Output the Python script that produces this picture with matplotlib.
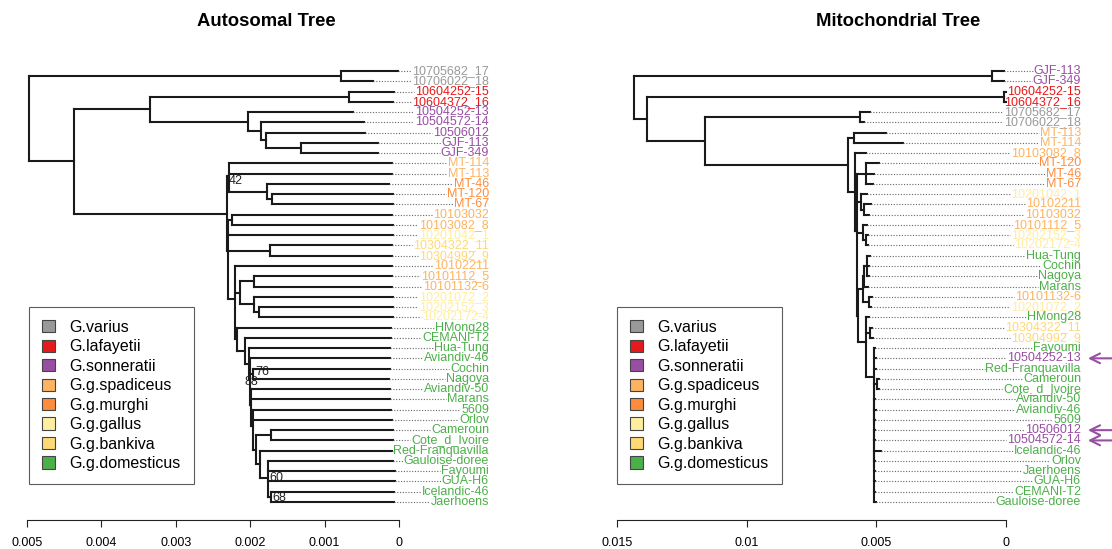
import numpy as np
import matplotlib
matplotlib.use('Agg')
import matplotlib.pyplot as plt
from matplotlib.collections import LineCollection
from matplotlib.patches import Patch
from matplotlib.transforms import offset_copy

plt.rcParams['font.family'] = ['Liberation Sans', 'DejaVu Sans']

# ---- groups / colours ----
group_names = ['G.varius', 'G.lafayetii', 'G.sonneratii', 'G.g.spadiceus',
               'G.g.murghi', 'G.g.gallus', 'G.g.bankiva', 'G.g.domesticus']
group_colors = ['#999999', '#E41A1C', '#984EA3', '#FDB462',
                '#FD8D3C', '#FFEDA0', '#FED976', '#4DAF4A']

varius_ids = ['10705682_17', '10706022_18']
lafayetii_ids = ['10604252-15', '10604372_16']
sonneratii_ids = ['10504252-13', '10504572-14', '10506012', 'GJF-113', 'GJF-349']
spadiceus_ids = ['MT-113', 'MT-114', '10103032', '10103082_8', '10102211',
                 '10101112_5', '10101132-6']
murghi_ids = ['MT-46', 'MT-120', 'MT-67']
gallus_ids = ['10201042_1', '10201072_2', '10202152_3', '10202172-4']
bankiva_ids = ['10304322_11', '10304992_9']
# everything else is G.g.domesticus

# samples marked with an arrow in the mitochondrial tree
mito_marked = ['10504252-13', '10506012', '10504572-14']

# trees: newick, number after ':' = node position on the axis (x 1e-3)
autosomal_newick = """
((10705682_17:0.013,10706022_18:0.349):0.780,
 (((10604252-15:0.067,10604372_16:0.081):0.672,
   (10504252-13:0.618,(10504572-14:0.470,(10506012:0.457,(GJF-113:0.282,GJF-349:0.282):1.317):1.788):1.855):2.030):3.347,
  ((MT-114:0.094,MT-113:0.094,(MT-46:0.134,(MT-120:0.081,MT-67:0.081):1.707):1.774)42:2.285,
   ((10103032:0.094,10103082_8:0.081):2.245,
    10201042_1:0.081,
    (10304322_11:0.094,10304992_9:0.094):1.734,
    (10102211:0.094,
     ((10101112_5:0.094,10101132-6:0.094):1.949,(10201072_2:0.081,(10202152_3:0.081,10202172-4:0.081):1.882):1.949):2.137,
     (HMong28:0.108,(CEMANI-T2:0.108,(Hua-Tung:0.121,(Aviandiv-46:0.121,(Cochin:0.121,Nagoya:0.134)76:1.962,
       (Aviandiv-50:0.121,Marans:0.121,(5609:0.108,Orlov:0.094,((Cameroun:0.081,Cote_d_Ivoire:0.081):1.720,
        (Red-Franquavilla:0.094,(Gauloise-doree:0.081,Fayoumi:0.054,GUA-H6:0.054,(Icelandic-46:0.067,Jaerhoens:0.067)68:1.720)60:1.761):1.868):1.922):1.962):1.989)88:2.003):2.016):2.070):2.177
    ):2.204):2.298):2.312):4.368):4.973;
"""

mito_newick = """
((GJF-113:0.077,GJF-349:0.077):0.540,
 ((10604252-15:0.0,10604372_16:0.0):0.077,
  ((10705682_17:5.244,10706022_18:5.476):5.630,
   ((MT-113:4.627,MT-114:3.972):5.861,
    (10103082_8:5.398,
     ((MT-120:4.897,MT-46:5.090,MT-67:5.129):5.398,
      (10201042_1:5.360,(10102211:5.206,10103032:5.283):5.476):5.591,
      (10101112_5:5.360,(10202152_3:5.321,10202172-4:5.321):5.398):5.514,
      ((((Hua-Tung:5.244,Cochin:5.283,Nagoya:5.283):5.360,Marans:5.321):5.476,(10101132-6:5.167,10201072_2:5.206):5.283):5.514,
       (HMong28:5.283,(10304322_11:5.167,10304992_9:5.129):5.244,
        (Fayoumi:5.051,10504252-13:5.013,Red-Franquavilla:5.013,(Cameroun:4.897,Cote_d_Ivoire:4.897):4.974,
         (Aviandiv-50:5.051,Aviandiv-46:5.013,5609:5.051,
          (10506012:5.051,10504572-14:5.051,Icelandic-46:4.820,Orlov:5.051,Jaerhoens:5.051,
           GUA-H6:5.051,CEMANI-T2:5.051,Gauloise-doree:5.013):5.075):5.082):5.090):5.398):5.707
     ):5.746):5.823):6.093):11.607):13.843):14.345;
"""

left_ticks = [0.005, 0.004, 0.003, 0.002, 0.001, 0]
left_ticklabels = ['0.005', '0.004', '0.003', '0.002', '0.001', '0']
right_ticks = [0.015, 0.01, 0.005, 0]
right_ticklabels = ['0.015', '0.01', '0.005', '0']

# small nudges (pixels) for the support values
boot_nudge = {'42': (0, 5), '88': (-5, 3), '76': (2, -2), '60': (1, 0), '68': (1, 1)}


def color_of(name):
    for ids, c in [(varius_ids, 0), (lafayetii_ids, 1), (sonneratii_ids, 2),
                   (spadiceus_ids, 3), (murghi_ids, 4), (gallus_ids, 5), (bankiva_ids, 6)]:
        if name in ids:
            return group_colors[c]
    return group_colors[7]


def parse(s):
    s = ''.join(s.split()).rstrip(';')
    pos = 0

    def node():
        nonlocal pos
        kids = []
        if s[pos] == '(':
            pos += 1
            while True:
                kids.append(node())
                if s[pos] == ',':
                    pos += 1
                    continue
                pos += 1
                break
        j = pos
        while pos < len(s) and s[pos] not in ',():':
            pos += 1
        name = s[j:pos]
        x = 0.0
        if pos < len(s) and s[pos] == ':':
            pos += 1
            j = pos
            while pos < len(s) and s[pos] not in ',()':
                pos += 1
            x = float(s[j:pos]) * 1e-3
        return {'name': name, 'x': x, 'kids': kids}
    return node()


def layout(n, tips):
    if not n['kids']:
        n['y'] = len(tips)
        tips.append(n)
    else:
        for k in n['kids']:
            layout(k, tips)
        n['y'] = np.mean([k['y'] for k in n['kids']])


W, H = 1112, 549
fig = plt.figure(figsize=(W / 100, H / 100), dpi=100)

axis_y = 520      # pixel row of the scale axis
first_tip, last_tip = 71, 502


def make_axes(px0, px1, zero_px, ppu):
    ax = fig.add_axes([px0 / W, (H - axis_y) / H, (px1 - px0) / W, axis_y / H])
    ax.set_xlim((zero_px - px0) / ppu, (zero_px - px1) / ppu)
    step = (last_tip - first_tip) / 42
    ax.set_ylim((axis_y - first_tip) / step, -first_tip / step)
    for s in ['top', 'right', 'left']:
        ax.spines[s].set_visible(False)
    ax.set_yticks([])
    ax.patch.set_visible(False)
    return ax


def draw_tree(ax, newick, label_x, title, title_px, ticks, ticklabels):
    tree = parse(newick)
    tips = []
    layout(tree, tips)
    segs = []
    boots = []

    def walk(n):
        if n['kids']:
            ys = [k['y'] for k in n['kids']]
            segs.append([(n['x'], min(ys)), (n['x'], max(ys))])
            for k in n['kids']:
                segs.append([(n['x'], k['y']), (k['x'], k['y'])])
                walk(k)
            if n['name']:
                boots.append(n)
    walk(tree)
    ax.add_collection(LineCollection(segs, colors='#1a1a1a', linewidths=1.5,
                                     capstyle='projecting'))
    for n in boots:
        dx, dy = boot_nudge.get(n['name'], (0, 0))
        tr = offset_copy(ax.transData, fig=fig, x=dx, y=-dy, units='dots')
        ax.text(n['x'], n['y'], n['name'], ha='left', va='center', fontsize=9,
                color='#222222', transform=tr)
    texts = []
    for t in tips:
        txt = ax.text(label_x, t['y'], t['name'], ha='right', va='center',
                      fontsize=9, color=color_of(t['name']))
        texts.append((t, txt))
    ax.spines['bottom'].set_bounds(min(ticks), max(ticks))
    ax.spines['bottom'].set_color('#222222')
    ax.spines['bottom'].set_linewidth(0.8)
    ax.set_xticks(ticks)
    ax.set_xticklabels(ticklabels)
    ax.tick_params(axis='x', direction='out', length=5, width=0.8, pad=7,
                   labelsize=9, color='#222222')
    fig.text(title_px / W, 1 - 22 / H, title, ha='center', va='center',
             fontsize=13.3, fontweight='bold')
    return tips, texts


ax1 = make_axes(0, 556, 399, 74400)
ax2 = make_axes(556, 1112, 1006, (1006 - 617) / 0.015)

tips1, texts1 = draw_tree(ax1, autosomal_newick, (399 - 489) / 74400,
                          'Autosomal Tree', 266, left_ticks, left_ticklabels)
tips2, texts2 = draw_tree(ax2, mito_newick, (1006 - 1081) / ((1006 - 617) / 0.015),
                          'Mitochondrial Tree', 898, right_ticks, right_ticklabels)

# dotted leaders from tip to label
fig.canvas.draw()
renderer = fig.canvas.get_renderer()
for ax, texts in [(ax1, texts1), (ax2, texts2)]:
    inv = ax.transData.inverted()
    for t, txt in texts:
        bb = txt.get_window_extent(renderer)
        xl = inv.transform((bb.x0 - 1, bb.y0))[0]
        if xl < t['x']:
            ax.plot([t['x'], xl], [t['y'], t['y']], color='#666666', lw=0.8,
                    linestyle=(0, (1, 1.5)))

# arrows
for t, txt in texts2:
    if t['name'] in mito_marked:
        ax2.annotate('', xy=(txt.get_position()[0], t['y']), xycoords='data',
                     xytext=(45, 0), textcoords='offset points',
                     arrowprops=dict(arrowstyle='->,head_length=0.7,head_width=0.35',
                                     color=group_colors[2], lw=1.5, shrinkA=0, shrinkB=5))

# legends
handles = [Patch(facecolor=c, edgecolor='#444444', linewidth=0.8) for c in group_colors]
for ax, x_px in [(ax1, 29), (ax2, 617)]:
    leg = ax.legend(handles, group_names, loc='upper left',
                    bbox_to_anchor=(x_px / W, 1 - 307 / H), bbox_transform=fig.transFigure,
                    fontsize=11.5, frameon=True, fancybox=False, borderaxespad=0,
                    handlelength=0.8, handleheight=0.8, handletextpad=0.95,
                    labelspacing=0.28, borderpad=0.8)
    leg.get_frame().set_edgecolor('#333333')
    leg.get_frame().set_linewidth(0.8)

fig.savefig('out.png', dpi=100)
